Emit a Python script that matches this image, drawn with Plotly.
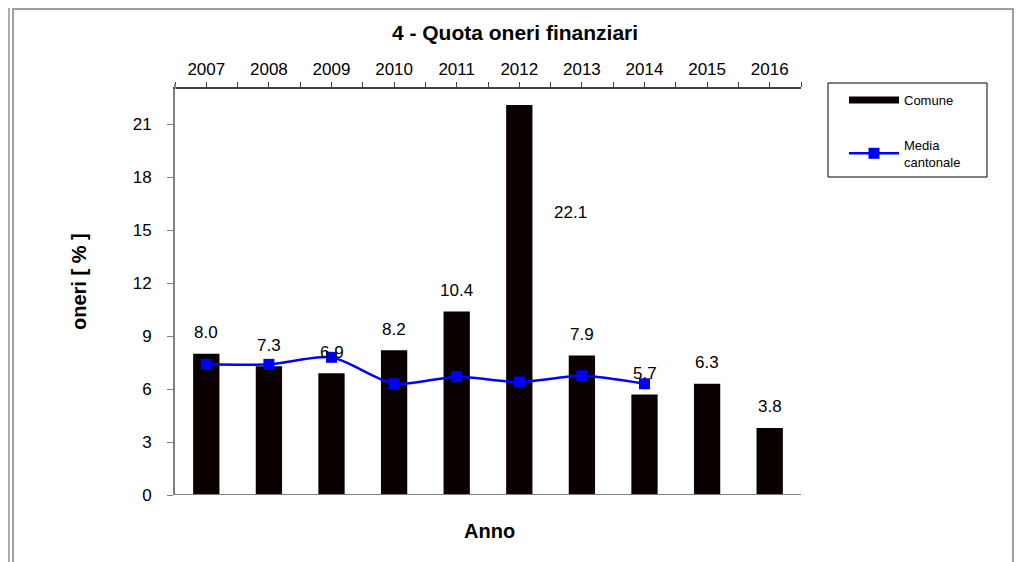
import plotly.graph_objects as go

years = [2007, 2008, 2009, 2010, 2011, 2012, 2013, 2014, 2015, 2016]
comune = [8.0, 7.3, 6.9, 8.2, 10.4, 22.1, 7.9, 5.7, 6.3, 3.8]
media_years = [2007, 2008, 2009, 2010, 2011, 2012, 2013, 2014]
media_cantonale = [7.4, 7.4, 7.8, 6.3, 6.7, 6.4, 6.75, 6.3]
y_ticks = [0, 3, 6, 9, 12, 15, 18, 21]

FONT = "Arial, Liberation Sans, sans-serif"
OFF = 8  # page body margin
W, H = 1024 - OFF, 562 - OFF
L, T = 175 - OFF, 89 - OFF
R = W - (801 - OFF)
B = H - (495 - OFF)
pw, ph = W - L - R, H - T - B


def px(xp):
    return (xp - OFF - L) / pw


def py(yp):
    return (H - B - (yp - OFF)) / ph


fig = go.Figure()
fig.add_trace(go.Bar(
    x=years, y=comune, width=0.42, marker=dict(color="#0a0000", line=dict(width=0)),
    name="Comune", showlegend=False, hoverinfo="x+y"))
# legend proxy for the bar series (Excel-style thick line key)
fig.add_trace(go.Scatter(
    x=[None], y=[None], mode="lines", line=dict(color="#0a0000", width=7),
    name="Comune", legendgroup="a"))
fig.add_trace(go.Scatter(
    x=media_years, y=media_cantonale, mode="lines+markers",
    line=dict(color="#0000ff", width=2.5, shape="spline", smoothing=0.7),
    marker=dict(symbol="square", size=11, color="#0000ff"),
    name="Media<br>cantonale", legendgroup="b"))

# data labels
special = {2012: (51, -108)}
for x, v in zip(years, comune):
    xs, ys = special.get(x, (0, 21))
    fig.add_annotation(x=x, y=v, text=f"{v:.1f}", showarrow=False,
                       xshift=xs, yshift=ys, xanchor="center", yanchor="middle",
                       font=dict(family=FONT, size=17, color="#000000"))

shapes = [
    dict(type="rect", xref="paper", yref="paper", x0=px(13), x1=px(1013), y0=py(575), y1=py(9),
         line=dict(color="#808080", width=1.5), layer="below"),
    dict(type="line", xref="paper", yref="paper", x0=px(9), x1=px(9), y0=py(575), y1=py(8),
         line=dict(color="#909090", width=1.5), layer="below"),
    # legend frame
    dict(type="rect", xref="paper", yref="paper", x0=px(828), x1=px(987), y0=py(177), y1=py(83),
         line=dict(color="#000000", width=1), fillcolor="white", layer="below"),
    # bottom baseline
    dict(type="line", xref="paper", yref="y", x0=0, x1=1, y0=0, y1=0,
         line=dict(color="#808080", width=2)),
    # y-axis line stub above the top axis
    dict(type="line", xref="paper", yref="paper", x0=0, x1=0, y0=1, y1=py(84),
         line=dict(color="#808080", width=2)),
]

fig.update_layout(
    width=W, height=H,
    margin=dict(l=L, r=R, t=T, b=B, autoexpand=False),
    paper_bgcolor="white", plot_bgcolor="white",
    font=dict(family=FONT, size=17, color="#000000"),
    title=dict(text="<b>4 - Quota oneri finanziari</b>", x=px(515), xref="paper", xanchor="center",
               y=1 - (33 - OFF) / H, yanchor="middle", font=dict(family=FONT, size=21)),
    bargap=0.58,
    showlegend=True,
    legend=dict(x=px(844), y=py(85), xanchor="left", yanchor="top",
                borderwidth=0, bgcolor="rgba(0,0,0,0)",
                font=dict(family=FONT, size=13), traceorder="grouped", tracegroupgap=25,
                itemwidth=50),
    shapes=shapes,
    xaxis=dict(side="top", range=[2006.5, 2016.5], tickmode="array", tickvals=years,
               ticktext=[str(y) for y in years], ticks="outside", ticklen=5, tickcolor="#404040",
               showline=True, linecolor="#404040", linewidth=1.5, showgrid=False, zeroline=False,
               minor=dict(ticks="outside", ticklen=5, tickcolor="#404040", tickmode="linear",
                          tick0=2006.5, dtick=1, showgrid=False),
               title=None, tickfont=dict(size=17)),
    yaxis=dict(range=[0, 23], tickmode="array", tickvals=y_ticks, ticks="outside", ticklen=6,
               tickcolor="#808080", showline=True, linecolor="#808080", linewidth=2,
               ticklabelstandoff=12,
               showgrid=False, zeroline=False, tickfont=dict(size=17), title=None),
)
fig.add_annotation(text="<b>oneri [ % ]</b>", xref="paper", yref="paper", x=px(79), y=py(282),
                   xanchor="center", yanchor="middle",
                   textangle=-90, showarrow=False, font=dict(family=FONT, size=20))
fig.add_annotation(text="<b>Anno</b>", xref="paper", yref="paper", x=px(489), y=py(531),
                   xanchor="center", yanchor="middle",
                   showarrow=False, font=dict(family=FONT, size=20))

fig.write_html("out.html")
